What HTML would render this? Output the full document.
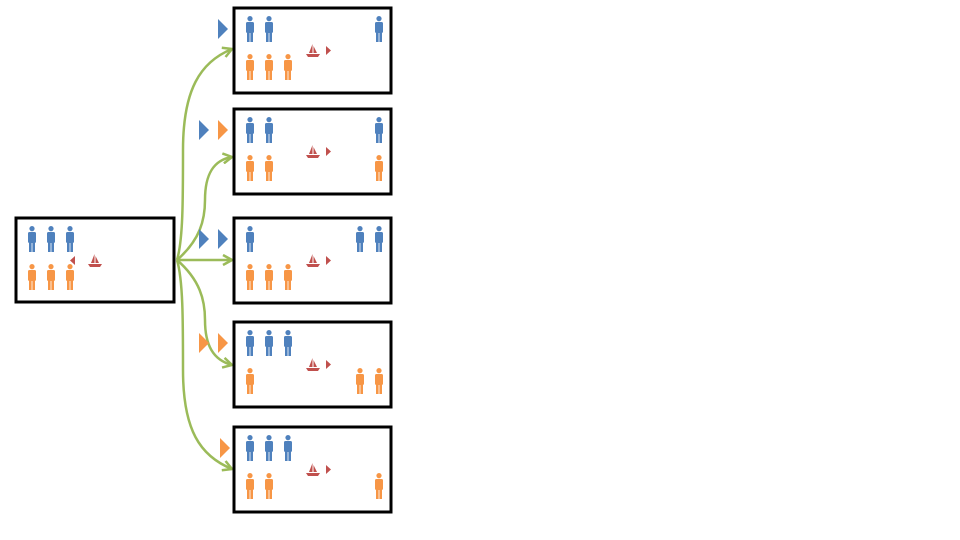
<!DOCTYPE html>
<html><head><meta charset="utf-8"><style>
html,body{margin:0;padding:0;background:#fff;width:960px;height:540px;overflow:hidden}
svg{display:block}
</style></head><body>
<svg id="s" width="960" height="540" viewBox="0 0 960 540" xmlns="http://www.w3.org/2000/svg">
<defs>
<marker id="ah" markerWidth="12" markerHeight="12" refX="10" refY="6" orient="auto" markerUnits="userSpaceOnUse">
<path d="M1,1 L10,6 L1,11" fill="none" stroke="#9bbb59" stroke-width="2.5"/>
</marker>
</defs>
<g id="links"></g>
<g id="boxes"></g>
</svg>
<script>
// states: [blueLeft, orangeLeft, blueRight, orangeRight]
const startState=[3,3,0,0];
const childStates=[[2,3,1,0],[2,2,1,1],[1,3,2,0],[3,1,0,2],[3,2,0,1]];
const childMoves=[["b"],["b","o"],["b","b"],["o","o"],["o"]];
const BLUE="#4f81bd",ORANGE="#f79646",RED="#c0504d",GREEN="#9bbb59";
const NS="http://www.w3.org/2000/svg";
const svg=document.getElementById('s');
const boxesG=document.getElementById('boxes');
const linksG=document.getElementById('links');
function mk(tag,attrs,parent){const e=document.createElementNS(NS,tag);for(const k in attrs)e.setAttribute(k,attrs[k]);parent.appendChild(e);return e;}
function person(cx,top,color,parent){
  const g=mk('g',{},parent);
  
  
  mk('circle',{cx:cx,cy:top+2.6,r:2.6,fill:color},g);
  mk('rect',{x:cx-4,y:top+6,width:8,height:11,rx:1.5,fill:color},g);
  mk('rect',{x:cx-3,y:top+15,width:2.6,height:11,fill:color},g);
  mk('rect',{x:cx+0.4,y:top+15,width:2.6,height:11,fill:color},g);
}
function boat(x,y,dir,parent){
  // x,y = hull left, hull top
  const g=mk('g',{},parent);
  
  
  mk('path',{d:`M${x},${y} L${x+14},${y} L${x+12},${y+3} L${x+2},${y+3}Z`,fill:RED},g);
  mk('path',{d:`M${x+3},${y-1} L${x+6.5},${y-10} L${x+6.5},${y-1}Z`,fill:RED},g);
  mk('path',{d:`M${x+7.5},${y-1} L${x+7.5},${y-8} L${x+11},${y-1}Z`,fill:RED},g);
  const a=mk('path',{d: dir>0?`M${x+20},${y-8} L${x+25},${y-3.5} L${x+20},${y+1}Z`:`M${x-13},${y-8} L${x-18},${y-3.5} L${x-13},${y+1}Z`,fill:RED},g);
  
  
}
function box(x,y,w,h,name){
  const r=mk('rect',{x:x,y:y,width:w,height:h,fill:"#fff",stroke:"#000","stroke-width":3},boxesG);
  
  
}
// start box
box(16,218,158,84,'start-state-box');
[32,51,70].slice(0,startState[0]).forEach(x=>person(x,226,BLUE,boxesG));
[32,51,70].slice(0,startState[1]).forEach(x=>person(x,264,ORANGE,boxesG));
boat(88,264,-1,boxesG);
// child boxes
const tops=[8,109,218,322,427];
const leftX=[250,269,288],rightX=[379,360,341];
childStates.forEach((st,i)=>{
  const t=tops[i];
  box(234,t,157,85,'state-box-'+(i+1));
  leftX.slice(0,st[0]).forEach(x=>person(x,t+8,BLUE,boxesG));
  leftX.slice(0,st[1]).forEach(x=>person(x,t+46,ORANGE,boxesG));
  rightX.slice(0,st[2]).reverse().forEach(x=>person(x,t+8,BLUE,boxesG));
  rightX.slice(0,st[3]).reverse().forEach(x=>person(x,t+46,ORANGE,boxesG));
  boat(306,t+46,1,boxesG);
  const mv=childMoves[i];
  const mx=mv.length===1?[222]:[203,222];
  if(i===4)mx[0]=224;
  mv.forEach((m,j)=>{
    const cy=t+21;
    const p=mk('path',{d:`M${mx[j]-4},${cy-10} L${mx[j]+6},${cy} L${mx[j]-4},${cy+10}Z`,fill:m==="b"?BLUE:ORANGE},boxesG);
    
    
  });
});
// links
const paths=[
 "M177,260 C183,240 183,200 183,150 C183,90 200,62 232,49",
 "M177,260 C200,240 205,220 205,200 C205,175 213,160 232,157",
 "M177,260 L232,260",
 "M177,260 C200,280 205,300 205,320 C205,345 213,360 232,365",
 "M177,260 C183,280 183,320 183,370 C183,430 200,456 232,469"
];
paths.forEach((d,i)=>{
  const p=mk('path',{d:d,fill:"none",stroke:GREEN,"stroke-width":2.5,"marker-end":"url(#ah)"},linksG);
  
  
});
</script>
</body></html>
